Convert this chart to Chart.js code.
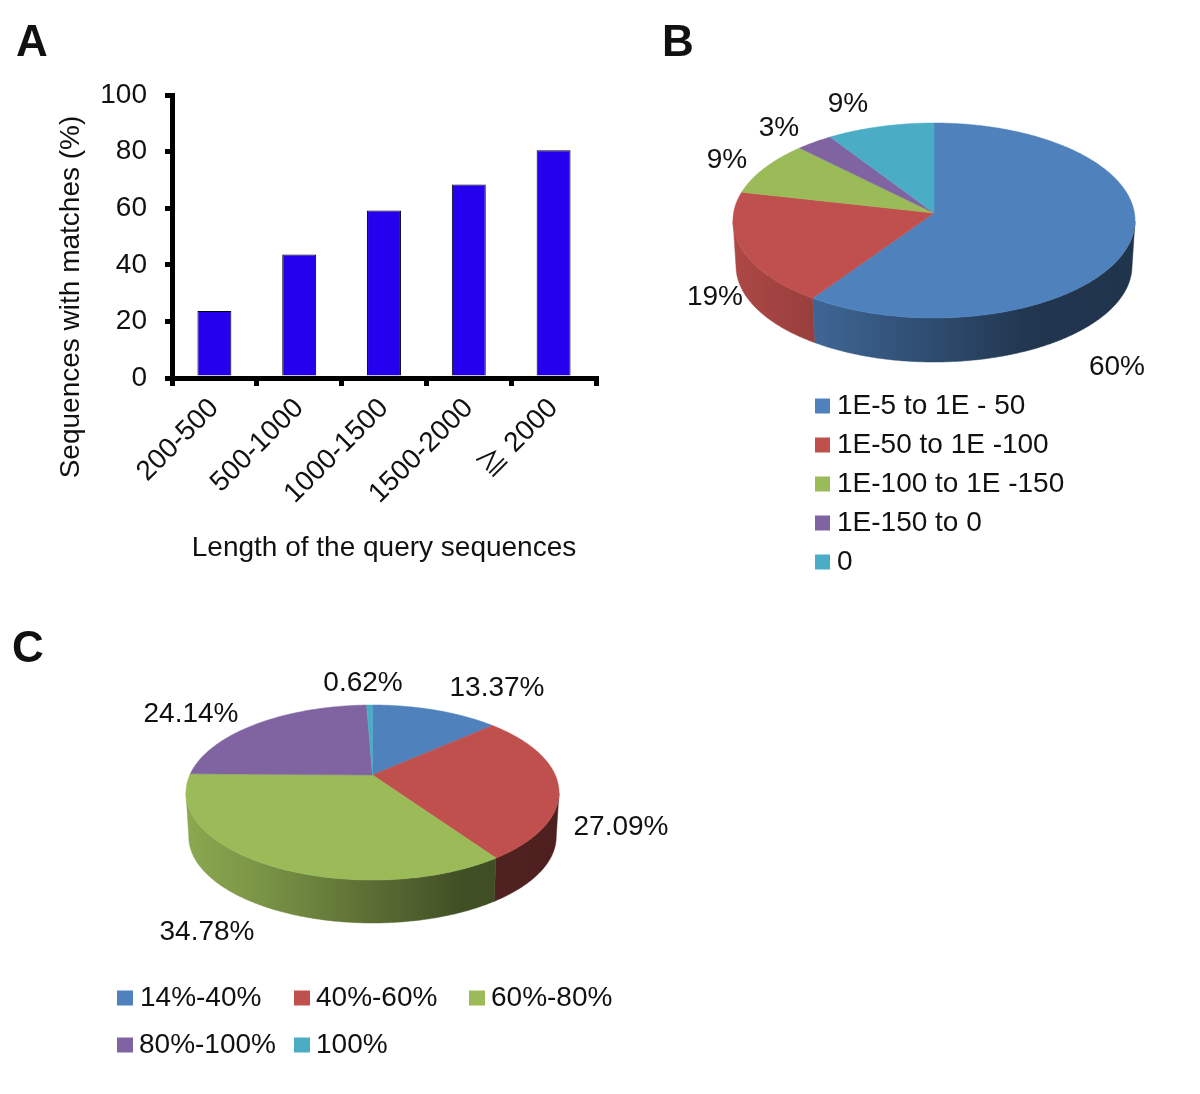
<!DOCTYPE html>
<html><head><meta charset="utf-8">
<style>
html,body{margin:0;padding:0;background:#fff}
body{width:1200px;height:1094px;position:relative;overflow:hidden}
canvas{position:absolute;display:block}
</style>
<script src="https://cdn.jsdelivr.net/npm/chart.js@4/dist/chart.umd.js"></script>
</head><body>
<canvas id="a" width="640" height="590" style="left:0;top:0;width:640px;height:590px"></canvas>
<canvas id="b" width="560" height="590" style="left:640px;top:0;width:560px;height:590px"></canvas>
<canvas id="c" width="700" height="494" style="left:0;top:600px;width:700px;height:494px"></canvas>
<script>
const lengthCategories = ['200-500','500-1000','1000-1500','1500-2000','\u2267 2000'];
const matchPercent = [23.7,43.6,59.2,68.4,80.5];
const yTicks = [0,20,40,60,80,100];
const evalueCategories = ['1E-5 to 1E - 50','1E-50 to 1E -100','1E-100 to 1E -150','1E-150 to 0','0'];
const evalueShare = [59.6,18.9,9,3.2,9.3];
const identityCategories = ['14%-40%','40%-60%','60%-80%','80%-100%','100%'];
const identityShare = [13.37,27.09,34.78,24.14,0.62];
const pieColors = ['#4F81BD','#C0504D','#9BBB59','#8064A2','#4BACC6'];
const INK = '#111';
const FONT = '"Liberation Sans", Arial, "Noto Sans CJK JP", sans-serif';

Chart.defaults.animation = false;
Chart.defaults.responsive = false;
Chart.defaults.devicePixelRatio = 1;

const freeText = {
  id:'freeText',
  afterDraw(chart,_a,o){
    const ctx = chart.ctx;
    (o.items||[]).forEach(it=>{
      ctx.save();
      ctx.fillStyle = INK;
      ctx.font = it.font || ('28px '+FONT);
      ctx.textAlign = it.align || 'center';
      ctx.textBaseline = 'middle';
      ctx.translate(it.x,it.y);
      if(it.rot) ctx.rotate(it.rot);
      ctx.fillText(it.t,0,0);
      ctx.restore();
    });
    (o.swatches||[]).forEach(s=>{
      ctx.fillStyle = s.c;
      ctx.fillRect(s.x,s.y,s.w,s.h);
    });
  }
};

function shade(hex,f){
  const n = parseInt(hex.slice(1),16);
  return `rgb(${Math.round((n>>16&255)*f)},${Math.round((n>>8&255)*f)},${Math.round((n&255)*f)})`;
}

/* Tilted pie: slices take their angles from the library's arc elements. */
const tiltedPie = {
  id:'tiltedPie',
  beforeDatasetsDraw(chart,_a,o){
    const ctx = chart.ctx, arcs = chart.getDatasetMeta(0).data;
    const cx = arcs[0].x, cy = arcs[0].y, rx = arcs[0].outerRadius, ry = o.ry, e = o.apex;
    const k = Math.sqrt(1-e*e);
    const proj = a=>{
      const X = Math.cos(a), Y = -Math.sin(a), d = 1+e*Y;
      return {dx:rx*X*k/d, dy:-ry*(Y+e)/d};
    };
    const slices = arcs.map(arc=>{
      const n = Math.max(4,Math.ceil((arc.endAngle-arc.startAngle)/0.01));
      const pts = [];
      for(let i=0;i<=n;i++) pts.push(proj(arc.startAngle+(arc.endAngle-arc.startAngle)*i/n));
      return {pts,color:arc.options.backgroundColor};
    });
    slices.forEach(s=>{
      const low = s.pts.filter(p=>p.dy>=0);
      if(low.length<2) return;
      const g = ctx.createLinearGradient(cx-rx,0,cx+rx,0);
      [[0,.9],[.2,.79],[.74,.42],[1,.4]].forEach(([t,f])=>g.addColorStop(t,shade(s.color,f)));
      ctx.beginPath();
      low.forEach((p,i)=>i?ctx.lineTo(cx+p.dx,cy+p.dy):ctx.moveTo(cx+p.dx,cy+p.dy));
      for(let i=low.length-1;i>=0;i--){
        ctx.lineTo(cx+low[i].dx*o.taper, cy+o.depth+low[i].dy*o.taper);
      }
      ctx.closePath();
      ctx.fillStyle = g; ctx.strokeStyle = g; ctx.lineWidth = .5;
      ctx.fill(); ctx.stroke();
    });
    const apexY = cy-ry*e;
    slices.forEach(s=>{
      ctx.beginPath();
      ctx.moveTo(cx,apexY);
      s.pts.forEach(p=>ctx.lineTo(cx+p.dx,cy+p.dy));
      ctx.closePath();
      ctx.fillStyle = s.color; ctx.strokeStyle = s.color; ctx.lineWidth = .5;
      ctx.fill(); ctx.stroke();
    });
    return false;
  }
};

new Chart(document.getElementById('a'),{
  type:'bar',
  data:{labels:lengthCategories,datasets:[{data:matchPercent,backgroundColor:'#2400EE',borderColor:'#000',borderWidth:1,barPercentage:.4,categoryPercentage:1}]},
  plugins:[freeText],
  options:{
    layout:{padding:{left:0,top:95,right:44,bottom:25}},
    plugins:{
      legend:{display:false},tooltip:{enabled:false},
      freeText:{items:[
        {t:'A',x:32,y:44,font:'bold 44px '+FONT},
        {t:'Sequences with matches (%)',x:71,y:297,rot:-Math.PI/2}
      ]}
    },
    scales:{
      x:{
        afterFit(s){s.height=187},
        offset:true,
        border:{display:true,color:'#000',width:5},
        grid:{display:true,offset:true,drawOnChartArea:false,color:'#000',lineWidth:5,tickLength:8,tickColor:'#000',tickWidth:5},
        ticks:{color:INK,font:{family:FONT,size:28},maxRotation:45,minRotation:45,padding:6,autoSkip:false},
        title:{display:true,text:'Length of the query sequences',color:INK,font:{family:FONT,size:28},padding:0}
      },
      y:{
        afterFit(s){s.width=172},
        min:0,max:100,
        afterBuildTicks(s){s.ticks=yTicks.map(v=>({value:v}))},
        border:{display:true,color:'#000',width:5},
        grid:{display:true,drawOnChartArea:false,color:'#000',lineWidth:5,tickLength:7,tickColor:'#000',tickWidth:5},
        ticks:{color:INK,font:{family:FONT,size:28},padding:18}
      }
    }
  }
});

const bLabelPos = [[477,367],[75,297],[87,160],[139,128],[208,104]];
const bLegendRows = [406,445,484,523,562];
new Chart(document.getElementById('b'),{
  type:'pie',
  data:{labels:evalueCategories,datasets:[{data:evalueShare,backgroundColor:pieColors,borderWidth:0}]},
  plugins:[tiltedPie,freeText],
  options:{
    layout:{padding:{left:93,right:65,top:19.5,bottom:168.5}},
    plugins:{
      legend:{display:false},tooltip:{enabled:false},
      tiltedPie:{ry:97.5,apex:.077,depth:45.5,taper:.985},
      freeText:{
        items:[{t:'B',x:38,y:44,font:'bold 44px '+FONT}]
          .concat(evalueShare.map((v,i)=>({t:Math.round(v)+'%',x:bLabelPos[i][0],y:bLabelPos[i][1]})))
          .concat(evalueCategories.map((t,i)=>({t,x:197,y:bLegendRows[i],align:'left'}))),
        swatches:pieColors.map((c,i)=>({c,x:175,y:bLegendRows[i]-7.5,w:15,h:15}))
      }
    }
  }
});

const cLabelPos = [[497,88],[621,227],[207,332],[191,114],[363,83]];
const cLegendPos = [[117,398,140],[294,398,316],[469,398,491],[117,445,139],[294,445,316]];
new Chart(document.getElementById('c'),{
  type:'pie',
  data:{labels:identityCategories,datasets:[{data:identityShare,backgroundColor:pieColors,borderWidth:0}]},
  plugins:[tiltedPie,freeText],
  options:{
    layout:{padding:{left:186,right:141,top:6,bottom:115}},
    plugins:{
      legend:{display:false},tooltip:{enabled:false},
      tiltedPie:{ry:87.5,apex:.2,depth:44.3,taper:.985},
      freeText:{
        items:[{t:'C',x:28,y:50,font:'bold 44px '+FONT}]
          .concat(identityShare.map((v,i)=>({t:v.toFixed(2)+'%',x:cLabelPos[i][0],y:cLabelPos[i][1]})))
          .concat(identityCategories.map((t,i)=>({t,x:cLegendPos[i][2],y:cLegendPos[i][1],align:'left'}))),
        swatches:pieColors.map((c,i)=>({c,x:cLegendPos[i][0],y:cLegendPos[i][1]-7.5,w:16,h:15}))
      }
    }
  }
});
</script>
</body></html>
